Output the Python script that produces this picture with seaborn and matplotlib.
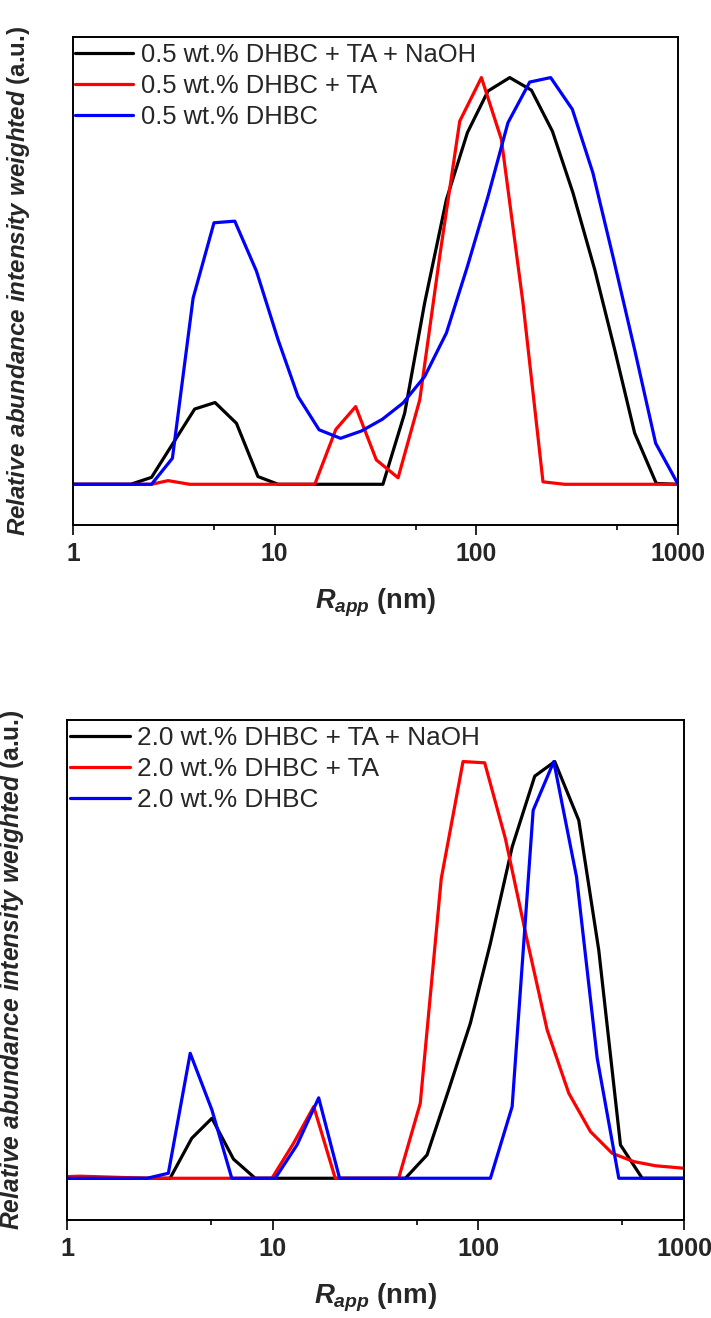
import matplotlib
matplotlib.use("Agg")
import matplotlib.pyplot as plt
import matplotlib.ticker as mticker
import pandas as pd
import seaborn as sns

COLORS = ["#000000", "#FF0000", "#0000FF"]
SAMPLES_05 = ["0.5 wt.% DHBC + TA + NaOH", "0.5 wt.% DHBC + TA", "0.5 wt.% DHBC"]
SAMPLES_20 = ["2.0 wt.% DHBC + TA + NaOH", "2.0 wt.% DHBC + TA", "2.0 wt.% DHBC"]
X_TICKS = [1, 10, 100, 1000]
X_TICK_LABELS = ["1", "10", "100", "1000"]
X_MINOR = [5, 50, 500]

# 0.5 wt.% panel (R_app in nm, normalised intensity)
r_naoh_05 = [1.0, 1.93, 2.45, 4.01, 5.06, 6.46, 8.26, 10.4, 34.4, 44.1, 55.4, 71.0,
             90.3, 114.2, 146.3, 187.4, 238.2, 301, 386, 485, 609, 780, 1000]
i_naoh_05 = [0, 0, 0.017, 0.185, 0.201, 0.150, 0.019, 0, 0, 0.175, 0.446, 0.700,
             0.865, 0.967, 1.0, 0.969, 0.868, 0.717, 0.528, 0.331, 0.126, 0.002, 0]
r_ta_05 = [1.0, 2.45, 2.96, 3.79, 15.8, 20.1, 25.2, 31.9, 40.9, 52.4, 65.8, 82.7,
           105.9, 133, 170.2, 213.9, 274, 1000]
i_ta_05 = [0, 0, 0.009, 0, 0, 0.135, 0.191, 0.06, 0.016, 0.208, 0.561, 0.893,
           1.0, 0.848, 0.446, 0.006, 0, 0]
r_dhbc_05 = [1.0, 2.45, 3.11, 3.94, 5.00, 6.34, 8.12, 10.4, 13.05, 16.6, 21.2, 26.9,
             34.2, 43.3, 55.4, 71.0, 90.3, 114.2, 143.4, 183.8, 233.5, 299, 378, 475,
             609, 774, 1000]
i_dhbc_05 = [0, 0, 0.064, 0.458, 0.643, 0.647, 0.524, 0.355, 0.216, 0.134, 0.113, 0.131,
             0.160, 0.200, 0.265, 0.372, 0.536, 0.708, 0.889, 0.989, 1.0, 0.922, 0.766, 0.561,
             0.331, 0.101, 0]

# 2.0 wt.% panel
r_naoh_20 = [1.0, 3.16, 4.03, 5.05, 6.43, 8.20, 44.1, 56.2, 71.6, 91.3, 114.3, 145.8,
             187.8, 235, 307.5, 384.8, 490.6, 626, 1000]
i_naoh_20 = [0, 0, 0.096, 0.144, 0.046, 0, 0, 0.056, 0.212, 0.372, 0.564, 0.795,
             0.965, 1.0, 0.859, 0.547, 0.080, 0, 0]
r_ta_20 = [1.0, 1.15, 2.5, 9.89, 12.6, 15.8, 20.1, 40.9, 52.1, 65.9, 84.1, 107.2,
           135.2, 172.5, 215.8, 275, 350.6, 447, 569.6, 726.6, 1000]
i_ta_20 = [0.004, 0.005, 0, 0, 0.084, 0.172, 0, 0, 0.180, 0.719, 1.0, 0.997,
           0.815, 0.571, 0.356, 0.204, 0.112, 0.060, 0.040, 0.030, 0.024]
r_dhbc_20 = [1.0, 2.44, 3.10, 3.96, 5.05, 6.31, 10.26, 13.1, 16.7, 21.1, 114.3, 145.8,
             184.5, 232.4, 300, 378, 481.5, 1000]
i_dhbc_20 = [0, 0, 0.012, 0.300, 0.164, 0, 0, 0.080, 0.193, 0, 0, 0.172,
             0.883, 1.0, 0.723, 0.288, 0, 0]


def make_frame(samples, radii, intensities):
    parts = []
    for name, r, i in zip(samples, radii, intensities):
        parts.append(pd.DataFrame({"R": r, "I": i, "sample": name}))
    return pd.concat(parts, ignore_index=True)


def draw_panel(ax, frame, samples, scale, legend_x):
    sns.lineplot(data=frame, x="R", y="I", hue="sample", hue_order=samples,
                 palette=COLORS, estimator=None, sort=False, lw=2.3, ax=ax)
    ax.set_xscale("log")
    ax.set_xlim(1, 1000)
    ax.set_ylim(-0.1, 1.1)
    ax.set_yticks([])
    ax.set_xticks(X_TICKS, labels=X_TICK_LABELS)
    ax.xaxis.set_minor_locator(mticker.FixedLocator(X_MINOR))
    ax.xaxis.set_minor_formatter(mticker.NullFormatter())
    ax.tick_params(axis="x", which="major", direction="out", length=7, width=1.4,
                   labelsize=17.8 * scale, pad=5)
    ax.tick_params(axis="x", which="minor", direction="out", length=3.5, width=1.4)
    for lab in ax.get_xticklabels():
        lab.set_fontweight("bold")
    for spine in ax.spines.values():
        spine.set_linewidth(1.4)
        spine.set_color("black")
    ax.set_xlabel(r"$R_{app}$ (nm)", fontsize=19.5 * scale, fontweight="bold", labelpad=15)
    ax.set_ylabel(r"$\mathit{Relative\ abundance\ intensity\ weighted}$ (a.u.)",
                  fontsize=17.4 * scale, fontweight="bold")
    ax.yaxis.set_label_coords(-0.067, 0.5)
    sns.move_legend(ax, "upper left", bbox_to_anchor=(legend_x, 1), frameon=False, title=None,
                    fontsize=18.4 * scale, handlelength=2.3, handletextpad=0.28,
                    labelspacing=0.28, borderaxespad=0.0, borderpad=0.22)
    for line in ax.get_legend().get_lines():
        line.set_linewidth(2.3)


sns.set_style("ticks")
plt.rcParams["font.family"] = ["Liberation Sans", "DejaVu Sans"]
plt.rcParams["mathtext.fontset"] = "custom"
plt.rcParams["mathtext.it"] = "Liberation Sans:italic:bold"
plt.rcParams["mathtext.rm"] = "Liberation Sans:bold"
plt.rcParams["mathtext.bf"] = "Liberation Sans:bold"

fig = plt.figure(figsize=(7.11, 13.18), dpi=100)
ax_top = fig.add_axes([0.1027, 0.6017, 0.851, 0.3703])
ax_bot = fig.add_axes([0.0947, 0.0744, 0.8674, 0.3794])

top = make_frame(SAMPLES_05, [r_naoh_05, r_ta_05, r_dhbc_05], [i_naoh_05, i_ta_05, i_dhbc_05])
bot = make_frame(SAMPLES_20, [r_naoh_20, r_ta_20, r_dhbc_20], [i_naoh_20, i_ta_20, i_dhbc_20])
draw_panel(ax_top, top, SAMPLES_05, 1.0, -0.0066)
draw_panel(ax_bot, bot, SAMPLES_20, 1.02, -0.005)

fig.savefig("out.png", dpi=100)
plt.close(fig)
